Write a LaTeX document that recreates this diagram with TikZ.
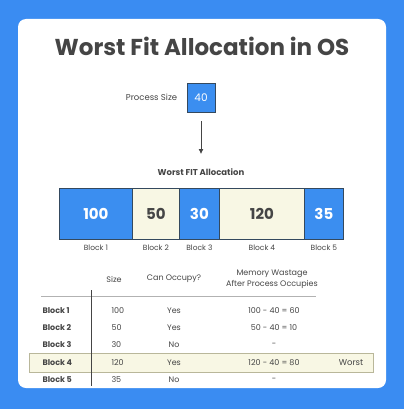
\documentclass[tikz,border=0pt]{standalone}
\usepackage{fontspec}
\setmainfont{Poppins}
\usetikzlibrary{arrows.meta,positioning}
\definecolor{bgblue}{HTML}{3A8CF2}
\definecolor{blkblue}{HTML}{3B8EF0}
\definecolor{cream}{HTML}{F8F7E4}
\definecolor{ink}{HTML}{454545}
\definecolor{rim}{HTML}{34495E}
\definecolor{hlrim}{HTML}{B9B79A}
\begin{document}
\begin{tikzpicture}[x = 1pt, y = -1pt,
	every node/.style = {text = ink, font = \fontsize{8}{9}\selectfont},
	blk/.style = {draw = rim, line width = 0.8pt, minimum height = 51pt, inner sep = 0pt, anchor = west, font = \fontsize{15}{16}\bfseries\selectfont}]
	\useasboundingbox (0,0) rectangle (404,409);
	\fill [bgblue] (0,0) rectangle (404,409);
	\fill [white, rounded corners = 8pt] (18,19) rectangle (386,388);
	% title
	\node (title) at (202,46) {\fontsize{23}{26}\bfseries\selectfont Worst Fit Allocation in OS};
	% process
	\node [fill = blkblue, draw = rim, line width = 0.6pt, minimum width = 28pt, minimum height = 29pt, text = white, font = \fontsize{10.5}{12}\selectfont] (proc) at (201,97.5) {40};
	\node [left = 6pt of proc, font = \fontsize{8.5}{10}\selectfont] (proclbl) {Process Size};
	\node [font = \fontsize{8.5}{10}\bfseries\selectfont] (alloc) at (201,172) {Worst FIT Allocation};
	\draw [->, >={Latex[length=5pt,width=5pt]}, ink, line width = 0.8pt, shorten <= 9pt, shorten >= 11pt] (proc.south) -- (alloc.north);
	% blocks
	\foreach \i/\x/\w/\v/\f/\t in {1/59/73/100/blkblue/white, 2/132/47/50/cream/ink, 3/179/40/30/blkblue/white, 4/219/85/120/cream/ink, 5/304/39/35/blkblue/white}{
	\node [blk, fill = \f, text = \t, minimum width = \w pt] (b\i) at (\x,213.5) {\v};
	\node [below = 2pt of b\i, font = \fontsize{7.5}{9}\selectfont] (bl\i) {Block \i};
	}
	% table
	\fill [cream] (29,353) rectangle (373,372);
	\draw [hlrim, line width = 0.7pt] (29,353) rectangle (373,372);
	\draw [gray!60, line width = 0.6pt] (41,296) -- (316,296);
	\draw [ink, line width = 0.6pt] (91,290) -- (91,386);
	\node (hsize) at (114,279) {Size};
	\node (hocc) at (174,279) {Can Occupy?};
	\node [align = center, font = \fontsize{8}{10.5}\selectfont] (hmem) at (272,279) {Memory Wastage\\After Process Occupies};
	\foreach \y/\n/\s/\c/\m in {311/1/100/Yes/100 - 40 = 60, 328/2/50/Yes/50 - 40 = 10, 345/3/30/No/-, 363/4/120/Yes/120 - 40 = 80, 380/5/35/No/-}{
	\node [anchor = west, font = \fontsize{8}{9}\bfseries\selectfont] (r\n) at (39,\y) {Block \n};
	\node [anchor = west] (s\n) at (108,\y) {\s};
	\node (c\n) at (174,\y) {\c};
	\node (m\n) at (274,\y) {\m};
	}
	\node [font = \fontsize{8.5}{10}\selectfont] (worst) at (351,363) {Worst};
\end{tikzpicture}
\end{document}
